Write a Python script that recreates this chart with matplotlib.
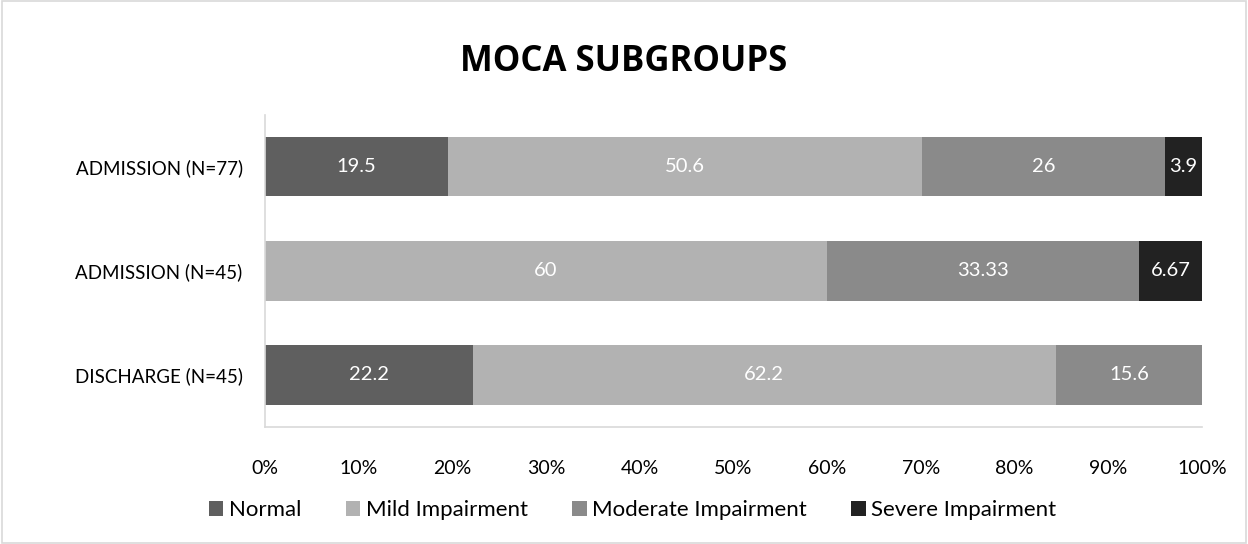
import matplotlib.pyplot as plt
import numpy as np

plt.rcParams["font.family"] = ["Lato", "DejaVu Sans"]

groups = ["ADMISSION (N=77)", "ADMISSION (N=45)", "DISCHARGE (N=45)"]
series = ["Normal", "Mild Impairment", "Moderate Impairment", "Severe Impairment"]
normal = [19.5, 0, 22.2]
mild = [50.6, 60, 62.2]
moderate = [26, 33.33, 15.6]
severe = [3.9, 6.67, 0]
colors = ["#5f5f5f", "#b2b2b2", "#8a8a8a", "#222222"]

values = [normal, mild, moderate, severe]

fig = plt.figure(figsize=(12.48, 5.44), dpi=100)
ax = fig.add_axes([0.2123, 0.215, 0.7508, 0.574])

# top row first
ypos = np.arange(len(groups))[::-1]
left = np.zeros(len(groups))
for name, vals, col in zip(series, values, colors):
    vals = np.array(vals, dtype=float)
    ax.barh(ypos, vals, left=left, height=0.57, color=col, label=name)
    for y, l, v in zip(ypos, left, vals):
        if v > 0:
            ax.text(l + v / 2, y, f"{v:g}", ha="center", va="center",
                    color="white", fontsize=14.5)
    left += vals

ax.set_xlim(0, 100)
ax.set_ylim(-0.5, 2.5)
ax.set_xticks(np.arange(0, 101, 10))
ax.set_xticklabels([f"{t}%" for t in range(0, 101, 10)], fontsize=14)
ax.set_yticks(ypos)
ax.set_yticklabels(groups, fontsize=13.5)
ax.tick_params(length=0)
ax.tick_params(axis="x", pad=24)
ax.tick_params(axis="y", pad=16)
for side in ["top", "right"]:
    ax.spines[side].set_visible(False)
for side in ["left", "bottom"]:
    ax.spines[side].set_color("#d9d9d9")
    ax.spines[side].set_linewidth(1.2)

fig.suptitle("MOCA SUBGROUPS", fontsize=25, fontweight="bold", y=0.92,
             family=["Open Sans", "DejaVu Sans"])

fig.legend(loc="center", bbox_to_anchor=(0.507, 0.062), ncol=4, frameon=False,
           fontsize=16, handlelength=0.65, handleheight=0.65, handletextpad=0.25,
           columnspacing=2.0)

border = plt.Rectangle((0.002, 0.002), 0.996, 0.996, transform=fig.transFigure,
                       fill=False, edgecolor="#d9d9d9", linewidth=1.2)
fig.add_artist(border)

fig.savefig("out.png", dpi=100)
